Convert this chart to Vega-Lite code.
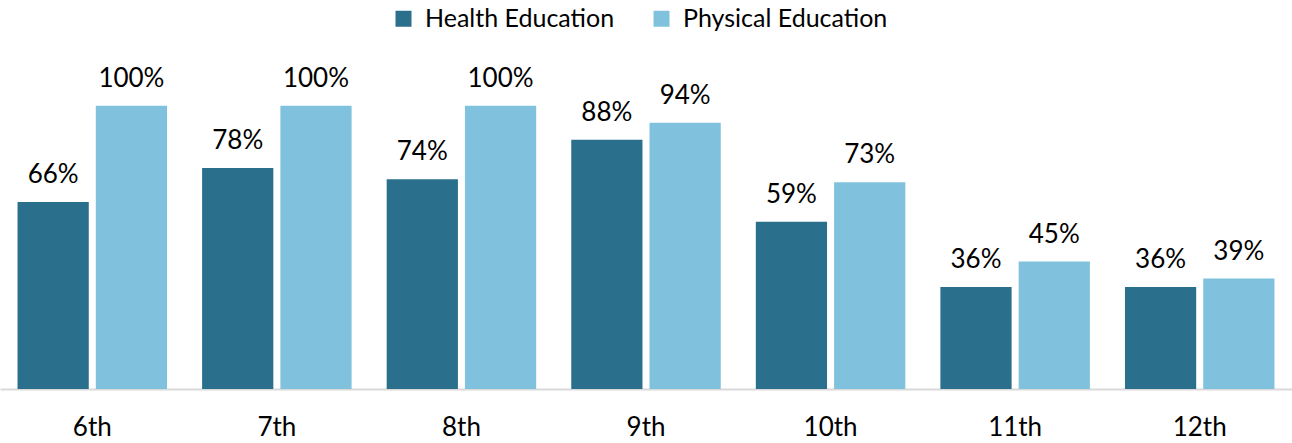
{
  "$schema": "https://vega.github.io/schema/vega-lite/v6.json",
  "width": 1292,
  "height": 340,
  "autosize": "none",
  "padding": {"top": 49, "left": 0, "right": 0, "bottom": 54},
  "config": {"font": "Lato", "view": {"stroke": null}},
  "data": {"values": [
    {"grade": "6th", "series": "Health Education", "value": 0.66},
    {"grade": "6th", "series": "Physical Education", "value": 1.00},
    {"grade": "7th", "series": "Health Education", "value": 0.78},
    {"grade": "7th", "series": "Physical Education", "value": 1.00},
    {"grade": "8th", "series": "Health Education", "value": 0.74},
    {"grade": "8th", "series": "Physical Education", "value": 1.00},
    {"grade": "9th", "series": "Health Education", "value": 0.88},
    {"grade": "9th", "series": "Physical Education", "value": 0.94},
    {"grade": "10th", "series": "Health Education", "value": 0.59},
    {"grade": "10th", "series": "Physical Education", "value": 0.73},
    {"grade": "11th", "series": "Health Education", "value": 0.36},
    {"grade": "11th", "series": "Physical Education", "value": 0.45},
    {"grade": "12th", "series": "Health Education", "value": 0.36},
    {"grade": "12th", "series": "Physical Education", "value": 0.39}
  ]},
  "encoding": {
    "x": {"field": "grade", "type": "nominal", "sort": null,
      "scale": {"paddingInner": 0.19, "paddingOuter": 0.095},
      "axis": {"title": null, "labelAngle": 0, "labelFontSize": 26, "labelColor": "#000000", "labelPadding": 25, "ticks": false, "domainColor": "#d9d9d9", "domainWidth": 2, "grid": false}},
    "xOffset": {"field": "series", "type": "nominal", "scale": {"paddingInner": 0.09, "paddingOuter": 0}},
    "y": {"field": "value", "type": "quantitative", "scale": {"domain": [0, 1.2]}, "axis": null}
  },
  "layer": [
    {"mark": {"type": "bar"},
     "encoding": {"color": {"field": "series", "type": "nominal",
       "scale": {"domain": ["Health Education", "Physical Education"], "range": ["#2A6F8B", "#80C2DD"]},
       "legend": {"title": null, "orient": "none", "direction": "horizontal", "legendX": 391, "legendY": -43, "symbolType": "square", "symbolSize": 256, "symbolStrokeWidth": 0, "labelFontSize": 25, "labelColor": "#000000", "labelOffset": 9, "columnPadding": 34, "labelLimit": 400}}}},
    {"mark": {"type": "text", "baseline": "bottom", "dy": -14, "fontSize": 26, "color": "#000000"},
     "encoding": {"text": {"field": "value", "type": "quantitative", "format": ".0%"}}}
  ]
}
